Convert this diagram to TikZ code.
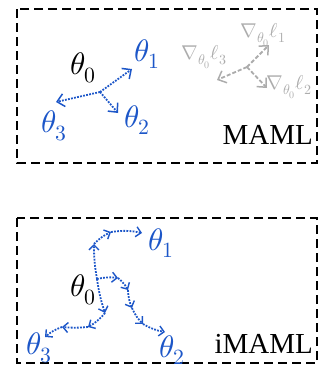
\documentclass[tikz,border=0pt]{standalone}
\usepackage{fontspec}
\usepackage{unicode-math}
\setmathfont{Latin Modern Math}
\newfontfamily\timesfont{Liberation Serif}
\usetikzlibrary{arrows.meta}
\definecolor{mblue}{RGB}{28,86,200}
\definecolor{mgray}{RGB}{172,172,172}

\begin{document}
\begin{tikzpicture}[x=1pt,y=-1pt,
  frame/.style={draw=black, line width=1.6pt, dash pattern=on 9pt off 5pt},
  upd/.style={draw=mblue, line width=1.8pt, dash pattern=on 1.8pt off 1.3pt, -{Straight Barb[length=5pt,width=10pt,line width=1.4pt]}},
  bigupd/.style={upd, -{Straight Barb[length=7pt,width=13pt,line width=1.5pt]}},
  grad/.style={draw=mgray, line width=1.8pt, dash pattern=on 4pt off 2pt, -{Straight Barb[length=7pt,width=13pt,line width=1.5pt]}}]
    \tikzset{theta/.style={inner sep=0pt, font=\fontsize{31}{34}\selectfont}}
    \tikzset{gradlab/.style={inner sep=0pt, text=mgray, font=\fontsize{20}{22}\selectfont}}
    \tikzset{method/.style={inner sep=0pt, anchor=base east, font=\timesfont\fontsize{29}{32}\selectfont}}
    \useasboundingbox (0,0) rectangle (322,373);

    % MAML
    \draw[frame] (17,9) rectangle (317,163);
    \coordinate (o) at (100,92);
    \node[theta] (t0) at (83,68) {$\theta_0$};
    \node[theta, text=mblue] (t1) at (147,54) {$\theta_1$};
    \node[theta, text=mblue] (t2) at (137,120) {$\theta_2$};
    \node[theta, text=mblue] (t3) at (54,126) {$\theta_3$};
    \coordinate (1) at (132,69);
    \coordinate (2) at (118,113);
    \coordinate (3) at (56,102);
    \draw[bigupd] (o) -- (1);
    \draw[bigupd] (o) -- (2);
    \draw[bigupd] (o) -- (3);

    \coordinate (g) at (247,67);
    \node[gradlab] (l1) at (263,35) {$\nabla_{\theta_0}\ell_1$};
    \node[gradlab] (l2) at (289,87) {$\nabla_{\theta_0}\ell_2$};
    \node[gradlab] (l3) at (204,57) {$\nabla_{\theta_0}\ell_3$};
    \coordinate (g1) at (269,45);
    \coordinate (g2) at (267,88);
    \coordinate (g3) at (217,80);
    \draw[grad] (g) -- (g1);
    \draw[grad] (g) -- (g2);
    \draw[grad] (g) -- (g3);
    \node[method] (maml) at (313,144) {MAML};

    % iMAML
    \draw[frame] (17,218) rectangle (317,363);
    \coordinate (oi) at (97,279);
    \node[theta] (s0) at (83,290) {$\theta_0$};
    \node[theta, text=mblue] (s1) at (161,243) {$\theta_1$};
    \node[theta, text=mblue] (s2) at (172,350) {$\theta_2$};
    \node[theta, text=mblue] (s3) at (39,348) {$\theta_3$};
    \coordinate (1a) at (94,244);
    \coordinate (1b) at (111,232);
    \coordinate (1c) at (142,233);
    \coordinate (2a) at (118,278);
    \coordinate (2b) at (128,290);
    \coordinate (2c) at (132,308);
    \coordinate (2d) at (143,324);
    \coordinate (2e) at (165,332);
    \coordinate (3a) at (105,313);
    \coordinate (3b) at (88,327);
    \coordinate (3c) at (62,327);
    \coordinate (3d) at (45,337);
    \draw[upd] (oi) to[bend left=5] (1a);
    \draw[upd] (1a) to[bend left=10] (1b);
    \draw[upd] (1b) to[bend left=10] (1c);
    \draw[upd] (oi) to[bend left=10] (2a);
    \draw[upd] (2a) to[bend left=10] (2b);
    \draw[upd] (2b) to[bend right=10] (2c);
    \draw[upd] (2c) to[bend right=10] (2d);
    \draw[upd] (2d) to[bend right=10] (2e);
    \draw[upd] (oi) to[bend right=5] (3a);
    \draw[upd] (3a) to[bend left=10] (3b);
    \draw[upd] (3b) to[bend left=5] (3c);
    \draw[upd] (3c) to[bend right=10] (3d);
    \node[method] (imaml) at (313,353) {iMAML};
\end{tikzpicture}
\end{document}
